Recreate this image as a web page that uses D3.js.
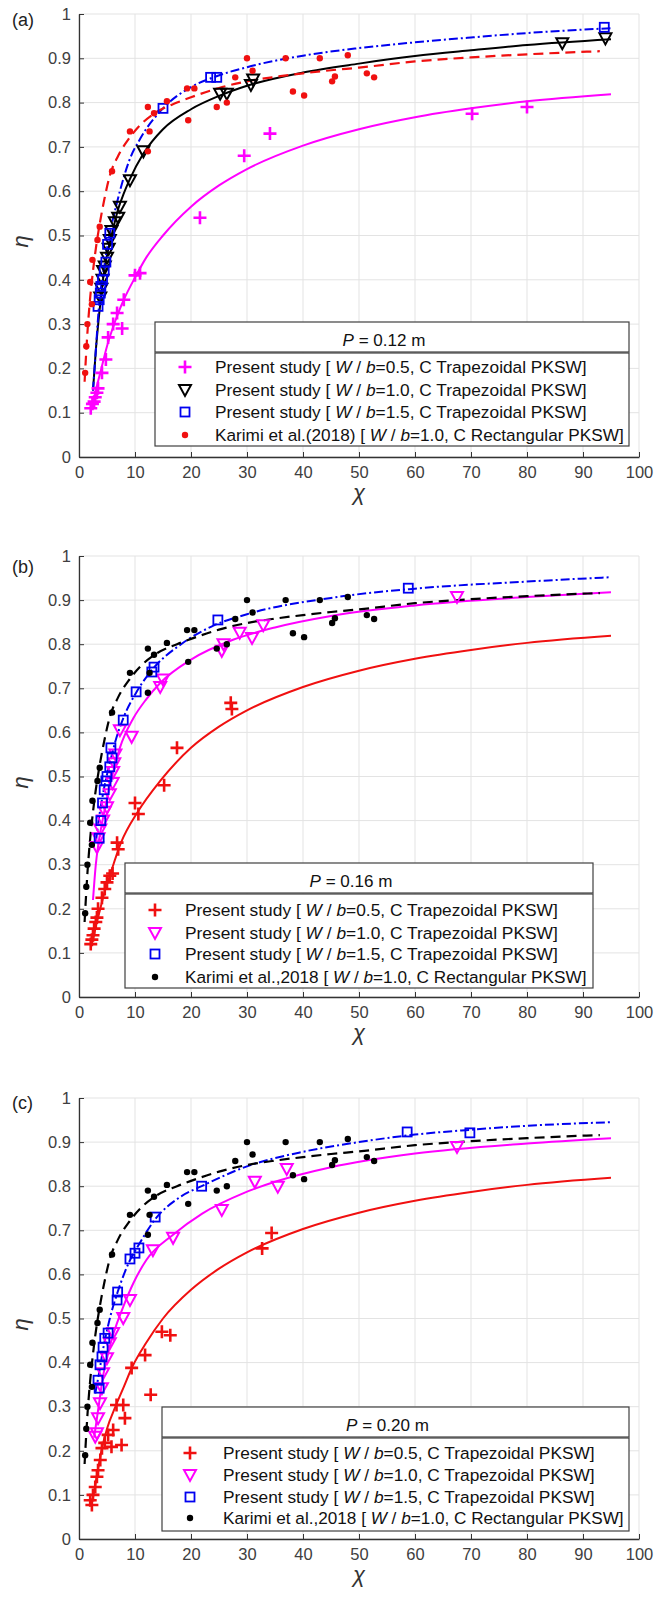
<!DOCTYPE html>
<html>
<head>
<meta charset="utf-8">
<script src="https://cdn.jsdelivr.net/npm/d3@7"></script>
<style>
body { margin: 0; background: #fff; }
svg text { font-family: "Liberation Sans", Arial, sans-serif; }
</style>
</head>
<body>
<svg id="fig" width="657" height="1600"></svg>
<script>
"use strict";

// axis ticks (same on all three panels)
const xTickVals = [0, 10, 20, 30, 40, 50, 60, 70, 80, 90, 100];
const xTickLabels = ["0", "10", "20", "30", "40", "50", "60", "70", "80", "90", "100"];
const yTickVals = [0, 0.1, 0.2, 0.3, 0.4, 0.5, 0.6, 0.7, 0.8, 0.9, 1];
const yTickLabels = ["0", "0.1", "0.2", "0.3", "0.4", "0.5", "0.6", "0.7", "0.8", "0.9", "1"];

const panelLabels = ["(a)", "(b)", "(c)"];
const panelTitles = ["0.12 m", "0.16 m", "0.20 m"];
const seriesNames = [
	"Present study [ W / b=0.5, C Trapezoidal PKSW]",
	"Present study [ W / b=1.0, C Trapezoidal PKSW]",
	"Present study [ W / b=1.5, C Trapezoidal PKSW]"
];
const karimiNames = [
	"Karimi et al.(2018) [ W / b=1.0, C Rectangular PKSW]",
	"Karimi et al.,2018 [ W / b=1.0, C Rectangular PKSW]",
	"Karimi et al.,2018 [ W / b=1.0, C Rectangular PKSW]"
];

// Karimi et al. (2018) measurements [chi, eta], same in every panel
const karimiPts = [[1.1,0.19],[1.3,0.25],[1.5,0.30],[2.3,0.345],[2.0,0.395],[2.4,0.445],[3.3,0.49],[3.7,0.52],
	[5.9,0.645],[9.1,0.735],[12.3,0.79],[12.3,0.69],[12.6,0.735],[13.4,0.776],[15.7,0.803],[19.3,0.832],
	[19.5,0.76],[20.6,0.832],[24.6,0.79],[26.4,0.80],[27.9,0.857],[30,0.90],[31,0.872],[36.9,0.90],
	[38.2,0.825],[40.2,0.816],[43,0.90],[45.2,0.848],[45.7,0.859],[48,0.907],[51.4,0.866],[52.7,0.857]];
const karimiFit = [[1.0,0.17],[1.5,0.28],[2,0.36],[2.5,0.42],[3,0.47],[3.75,0.53],[4.5,0.58],[5.5,0.635],
	[7,0.68],[9,0.72],[11,0.75],[14,0.78],[17.5,0.80],[20,0.812],[25,0.833],[30,0.848],[35,0.858],
	[40,0.866],[45,0.873],[50,0.879],[60,0.893],[70,0.902],[80,0.909],[93,0.916]];

// panel (a) P = 0.12 m
const a05Pts = [[2.1,0.11],[2.4,0.12],[2.7,0.125],[2.9,0.135],[3.2,0.145],[3.4,0.155],[4.1,0.19],[4.8,0.22],
	[5.2,0.27],[6.1,0.30],[6.8,0.325],[7.7,0.29],[8.0,0.355],[10,0.41],[10.9,0.415],[21.6,0.54],[29.5,0.68],
	[34.1,0.73],[70.2,0.775],[80,0.79]];
const a10Pts = [[3.8,0.36],[4.0,0.38],[4.2,0.40],[4.3,0.42],[4.6,0.43],[5.0,0.45],[5.3,0.47],[5.5,0.49],
	[5.8,0.51],[6.4,0.53],[7.0,0.54],[7.3,0.565],[9.1,0.625],[11.5,0.69],[25.2,0.82],[26.4,0.82],
	[30.7,0.84],[31.1,0.852],[86.3,0.934],[94,0.945]];
const a15Pts = [[3.4,0.34],[3.6,0.355],[3.8,0.37],[3.9,0.385],[4.2,0.40],[4.5,0.42],[4.8,0.44],[5.1,0.48],
	[5.5,0.505],[15,0.787],[23.5,0.857],[24.6,0.857],[93.8,0.97]];
const a05Fit = [[2.3,0.11],[3,0.15],[4,0.20],[5,0.25],[6,0.29],[7,0.325],[8,0.355],[10,0.405],[12,0.45],
	[15,0.50],[20,0.565],[25,0.613],[30,0.65],[40,0.703],[50,0.74],[60,0.767],[70,0.787],[80,0.803],[95,0.819]];
const a10Fit = [[2.5,0.15],[3,0.24],[3.5,0.31],[4,0.37],[4.5,0.42],[5,0.455],[6,0.51],[7,0.56],[8,0.595],
	[9,0.625],[11.5,0.685],[15,0.74],[20,0.785],[25,0.815],[30,0.838],[40,0.868],[50,0.888],[60,0.905],
	[70,0.918],[80,0.93],[95,0.943]];
const a15Fit = [[2.5,0.15],[3,0.24],[3.5,0.33],[4,0.39],[4.5,0.43],[5,0.47],[5.5,0.505],[6.5,0.56],[7.3,0.60],
	[9,0.67],[11,0.72],[15,0.787],[20,0.835],[24,0.857],[30,0.88],[40,0.906],[50,0.923],[60,0.936],
	[70,0.947],[80,0.957],[95,0.968]];

// panel (b) P = 0.16 m
const b05Pts = [[2.1,0.12],[2.3,0.13],[2.5,0.14],[2.7,0.155],[3.0,0.17],[3.2,0.18],[3.4,0.20],[4.1,0.225],
	[4.6,0.245],[5.0,0.26],[5.5,0.275],[6.0,0.28],[6.8,0.35],[7.0,0.335],[10,0.44],[10.6,0.415],[15.2,0.48],
	[17.5,0.565],[27.1,0.667],[27.3,0.653]];
const b10Pts = [[3.2,0.34],[3.5,0.36],[3.8,0.38],[4.3,0.40],[4.6,0.42],[5.0,0.43],[5.5,0.46],[6.0,0.485],
	[6.1,0.51],[6.3,0.53],[6.5,0.55],[7.3,0.605],[9.4,0.59],[14.5,0.703],[15,0.72],[25.5,0.785],[25.8,0.80],
	[28.7,0.826],[30.9,0.814],[32.9,0.843],[67.5,0.907]];
const b15Pts = [[3.6,0.36],[3.9,0.40],[4.2,0.44],[4.5,0.47],[4.8,0.49],[5.0,0.50],[5.5,0.522],[5.7,0.565],
	[5.9,0.542],[7.9,0.628],[10.2,0.692],[13,0.737],[13.4,0.748],[24.8,0.855],[58.8,0.927]];
const b05Fit = [[2.1,0.12],[2.5,0.13],[3,0.16],[3.8,0.20],[4.5,0.235],[5.5,0.275],[7.5,0.35],[10.5,0.42],
	[14.5,0.49],[20,0.565],[25,0.613],[30,0.65],[40,0.703],[50,0.74],[60,0.767],[70,0.787],[80,0.803],[95,0.819]];
const b10Fit = [[2.5,0.22],[3,0.30],[3.5,0.35],[4.2,0.40],[5,0.45],[6,0.505],[7.3,0.565],[9.7,0.632],[12,0.675],
	[14.5,0.712],[20,0.765],[27.5,0.81],[35,0.838],[45,0.864],[60,0.888],[80,0.907],[95,0.918]];
const b15Fit = [[3,0.35],[3.5,0.40],[4,0.44],[4.5,0.475],[5.5,0.53],[6.5,0.58],[7.9,0.632],[10.2,0.69],
	[13.6,0.75],[18,0.798],[24,0.842],[30,0.868],[45,0.905],[60,0.926],[80,0.942],[95,0.952]];

// panel (c) P = 0.20 m
const c05Pts = [[2.0,0.088],[2.3,0.077],[2.5,0.10],[2.9,0.118],[3.2,0.141],[3.4,0.156],[3.8,0.179],[4.1,0.206],
	[4.6,0.218],[5.2,0.236],[5.8,0.209],[6.1,0.247],[6.7,0.304],[7.6,0.213],[7.9,0.304],[8.2,0.274],
	[9.4,0.388],[11.8,0.417],[12.8,0.327],[14.8,0.47],[16.3,0.462],[32.7,0.659],[34.4,0.694]];
const c10Pts = [[2.9,0.232],[3.2,0.24],[3.4,0.274],[3.75,0.308],[4.1,0.342],[4.3,0.376],[5.0,0.41],[5.5,0.444],
	[6.1,0.467],[7.9,0.501],[9.1,0.542],[13.2,0.655],[16.8,0.683],[25.5,0.746],[31.4,0.81],[35.5,0.799],
	[37.1,0.839],[67.5,0.889]];
const c15Pts = [[3.4,0.36],[3.6,0.342],[3.75,0.395],[4.1,0.413],[4.3,0.435],[4.6,0.455],[5.2,0.467],[6.8,0.542],
	[6.9,0.56],[9.1,0.635],[10,0.648],[10.7,0.66],[13.6,0.73],[21.9,0.80],[58.6,0.923],[69.8,0.921]];
const c05Fit = [[2.2,0.08],[2.6,0.10],[3,0.13],[4,0.20],[5,0.25],[6.5,0.30],[8,0.345],[9.5,0.39],[12,0.445],
	[15,0.50],[20,0.565],[25,0.613],[30,0.65],[40,0.703],[50,0.74],[60,0.767],[70,0.787],[80,0.803],[95,0.819]];
const c10Fit = [[2.7,0.23],[3.5,0.30],[4.3,0.37],[5,0.41],[6,0.46],[6.8,0.49],[8,0.53],[9.7,0.58],[12,0.632],
	[16.8,0.69],[22,0.738],[29.5,0.785],[35,0.81],[45,0.843],[60,0.874],[80,0.897],[95,0.909]];
const c15Fit = [[2.9,0.33],[3.5,0.37],[4.3,0.43],[5.5,0.50],[6.9,0.56],[9.1,0.632],[10.7,0.668],[13.6,0.725],
	[18,0.775],[21.9,0.80],[30,0.845],[40,0.878],[50,0.9],[60,0.917],[70,0.928],[80,0.937],[95,0.945]];

// layout of each panel (pixels)
const layout = [
	{top: 14, bottom: 457, labelY: 26, lx0: 155, lx1: 629, lt0: 322, lt1: 352, lb: 446, mx: 185, tx: 215,
	 rows: [367, 390, 412, 435], textW: [372, 372, 372, 409], titleW: 83},
	{top: 556, bottom: 997, labelY: 573, lx0: 125, lx1: 593, lt0: 863, lt1: 893, lb: 988, mx: 155, tx: 185,
	 rows: [910, 933, 954, 977], textW: [373, 373, 373, 402], titleW: 83},
	{top: 1098, bottom: 1539, labelY: 1109, lx0: 162, lx1: 629, lt0: 1407, lt1: 1437, lb: 1531, mx: 190, tx: 223,
	 rows: [1453, 1475, 1497, 1518], textW: [372, 372, 372, 401], titleW: 83}
];

const MAG = "#ff00ff", RED = "#f01010", BLU = "#0000f0", BLK = "#000";

const panels = [
	{pts: [a05Pts, a10Pts, a15Pts, karimiPts], fits: [a05Fit, a10Fit, a15Fit, karimiFit],
	 colors: [MAG, BLK, BLU, RED]},
	{pts: [b05Pts, b10Pts, b15Pts, karimiPts], fits: [b05Fit, b10Fit, b15Fit, karimiFit],
	 colors: [RED, MAG, BLU, BLK]},
	{pts: [c05Pts, c10Pts, c15Pts, karimiPts], fits: [c05Fit, c10Fit, c15Fit, karimiFit],
	 colors: [RED, MAG, BLU, BLK]}
];

const svg = d3.select("#fig");
const x = d3.scaleLinear().domain([0, 100]).range([79, 639]);

function drawMarker(g, kind, color, px, py) {
	if (kind === 0) {
		g.append("path").attr("d", `M${px-6.5},${py}H${px+6.5}M${px},${py-6.5}V${py+6.5}`)
			.attr("stroke", color).attr("stroke-width", 2.6).attr("fill", "none");
	} else if (kind === 1) {
		g.append("path").attr("d", `M${px-6},${py-5}L${px+6},${py-5}L${px},${py+6}Z`)
			.attr("stroke", color).attr("stroke-width", 2).attr("fill", "none");
	} else if (kind === 2) {
		g.append("rect").attr("x", px-4.5).attr("y", py-4.5).attr("width", 9).attr("height", 9)
			.attr("stroke", color).attr("stroke-width", 1.8).attr("fill", "none");
	} else {
		g.append("circle").attr("cx", px).attr("cy", py).attr("r", 3.2).attr("fill", color);
	}
}

function legendText(t, str) {
	// split around "W / b" so the symbols can be italic
	let i = str.indexOf("W / b");
	t.append("tspan").text(str.slice(0, i));
	t.append("tspan").attr("font-style", "italic").text("W");
	t.append("tspan").text(" / ");
	t.append("tspan").attr("font-style", "italic").text("b");
	t.append("tspan").text(str.slice(i + 5));
}

// stretch a text horizontally to the width seen in the figure
function fitWidth(t, x0, w, anchorMid) {
	let cur = t.node().getComputedTextLength();
	let s = w / cur;
	t.attr("transform", `translate(${x0},0) scale(${s},1) translate(${-x0},0)`);
}

panels.forEach((p, k) => {
	const L = layout[k];
	const y = d3.scaleLinear().domain([0, 1]).range([L.bottom, L.top]);
	const g = svg.append("g");

	// grid
	g.selectAll(".gx").data(xTickVals).enter().append("line")
		.attr("x1", d => x(d)).attr("x2", d => x(d)).attr("y1", L.top).attr("y2", L.bottom)
		.attr("stroke", "#e3e3e3").attr("stroke-width", 1);
	g.selectAll(".gy").data(yTickVals).enter().append("line")
		.attr("x1", x(0)).attr("x2", x(100)).attr("y1", d => y(d)).attr("y2", d => y(d))
		.attr("stroke", "#e3e3e3").attr("stroke-width", 1);

	// axes, MATLAB style ticks pointing in
	const ax = g.append("g").attr("transform", `translate(0,${L.bottom})`)
		.call(d3.axisBottom(x).tickValues(xTickVals).tickFormat((d, i) => xTickLabels[i])
			.tickSize(-5).tickSizeOuter(0).tickPadding(9));
	const ay = g.append("g").attr("transform", `translate(${x(0)},0)`)
		.call(d3.axisLeft(y).tickValues(yTickVals).tickFormat((d, i) => yTickLabels[i])
			.tickSize(-5).tickSizeOuter(0).tickPadding(8));
	[ax, ay].forEach(a => {
		a.select(".domain").attr("stroke", "#333").attr("stroke-width", 1.3);
		a.selectAll(".tick line").attr("stroke", "#333");
		a.selectAll(".tick text").attr("fill", "#404040").attr("font-size", 16.5)
			.attr("font-family", "'Liberation Sans', Arial, sans-serif");
	});

	// fitted curves
	const line = d3.line().x(d => x(d[0])).y(d => y(d[1])).curve(d3.curveMonotoneX);
	const dashes = [null, null, "9,3,2,3", "10,6"];
	p.fits.forEach((f, j) => {
		g.append("path").datum(f).attr("d", line).attr("fill", "none")
			.attr("stroke", p.colors[j]).attr("stroke-width", j === 3 ? 2.2 : 2)
			.attr("stroke-dasharray", dashes[j]);
	});

	// measured points
	p.pts.forEach((s, j) => {
		s.forEach(d => drawMarker(g, j, p.colors[j], x(d[0]), y(d[1])));
	});

	// panel label and axis titles
	g.append("text").attr("x", 12).attr("y", L.labelY).attr("font-size", 18).attr("fill", "#222")
		.text(panelLabels[k]);
	g.append("text").attr("transform", `translate(28,${(L.top + L.bottom) / 2 + 6}) rotate(-90)`)
		.attr("text-anchor", "middle").attr("font-size", 22).attr("font-style", "italic")
		.attr("font-family", "'DejaVu Serif', serif").attr("fill", "#333").text("η");
	g.append("text").attr("x", x(50)).attr("y", L.bottom + 43).attr("text-anchor", "middle")
		.attr("font-size", 22).attr("font-style", "italic")
		.attr("font-family", "'DejaVu Serif', serif").attr("fill", "#333").text("χ");

	// legend
	g.append("rect").attr("x", L.lx0).attr("y", L.lt0).attr("width", L.lx1 - L.lx0).attr("height", L.lt1 - L.lt0)
		.attr("fill", "#fff").attr("stroke", "#404040").attr("stroke-width", 1.2);
	g.append("rect").attr("x", L.lx0).attr("y", L.lt1 + 1).attr("width", L.lx1 - L.lx0).attr("height", L.lb - L.lt1 - 1)
		.attr("fill", "#fff").attr("stroke", "#404040").attr("stroke-width", 1.2);
	const tcx = (L.lx0 + L.lx1) / 2 - 8;
	const tt = g.append("text").attr("x", tcx).attr("y", (L.lt0 + L.lt1) / 2 + 9)
		.attr("text-anchor", "middle").attr("font-size", 17).attr("fill", "#111");
	tt.append("tspan").attr("font-style", "italic").text("P");
	tt.append("tspan").text(" = " + panelTitles[k]);
	fitWidth(tt, tcx, L.titleW);

	const names = seriesNames.concat([karimiNames[k]]);
	names.forEach((n, j) => {
		drawMarker(g, j, p.colors[j], L.mx, L.rows[j]);
		const t = g.append("text").attr("x", L.tx).attr("y", L.rows[j] + 6)
			.attr("font-size", 17).attr("fill", "#111");
		legendText(t, n);
		fitWidth(t, L.tx, L.textW[j]);
	});
});
</script>
</body>
</html>
